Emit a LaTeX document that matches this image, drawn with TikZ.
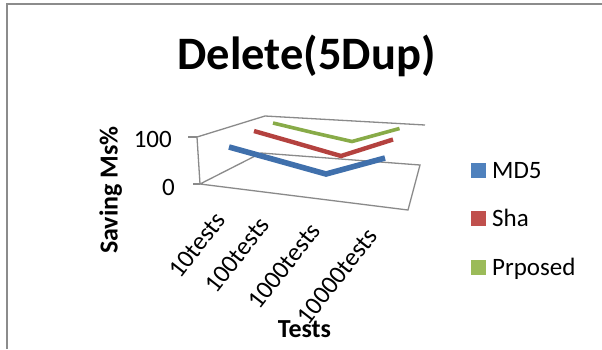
\documentclass[tikz,border=0pt]{standalone}
\usepackage{fontspec}
\setmainfont{Carlito}
\definecolor{framegray}{HTML}{8C8C8C}
\definecolor{wallgray}{HTML}{8A8A8A}
\definecolor{mdblue}{HTML}{4F81BD}
\definecolor{shared}{HTML}{C0504D}
\definecolor{propgreen}{HTML}{9BBB59}
\definecolor{mdribbon}{HTML}{4070AC}
\definecolor{sharibbon}{HTML}{B4423F}
\definecolor{propribbon}{HTML}{88AB48}
\begin{document}
\begin{tikzpicture}[x=1pt,y=-1pt,
  frameline/.style={draw=framegray,line width=1.6pt},
  wall/.style={draw=wallgray,line width=1.3pt},
  ribbon/.style={line width=#1,line join=miter,miter limit=4,line cap=butt},
  txt/.style={font=\fontsize{25}{30}\selectfont,inner sep=0pt},
  cattxt/.style={font=\fontsize{25.5}{30}\selectfont,inner sep=0pt,rotate=52,anchor=center},
  boldtxt/.style={font=\bfseries\fontsize{26}{31}\selectfont,inner sep=0pt},
  swatch/.style={minimum size=15pt,inner sep=0pt,anchor=north west}]
\useasboundingbox (0,0) rectangle (602,349);
\fill[white] (0,0) rectangle (602,349);

% outer frame of the chart area
\coordinate (frameBL) at (7,349);
\coordinate (frameTL) at (7,4);
\coordinate (frameTR) at (602,4);
\draw[frameline] (frameBL) -- (frameTL) -- (frameTR);

% title
\node[font=\bfseries\fontsize{46.5}{56}\selectfont,inner sep=0pt,anchor=base] (title) at (306.5,69) {Delete(5Dup)};

% 3-D box: side wall, back wall edge and floor
\coordinate (fl) at (200,184);
\coordinate (ft) at (197,137);
\coordinate (bt) at (265,116);
\coordinate (brt) at (425,125);
\coordinate (bl) at (261,153);
\coordinate (br) at (420,165);
\coordinate (fr) at (408,210);
\coordinate (tick100) at (188,137);
\coordinate (tick0) at (193,184);
\draw[wall] (fl) -- (ft) -- (bt) -- (brt);
\draw[wall] (fl) -- (bl) -- (br) -- (fr) -- cycle;
\draw[wall] (tick100) -- (ft);
\draw[wall] (tick0) -- (fl);

% series ribbons, back to front
\coordinate (p1) at (273,123);
\coordinate (p2) at (313,132.6);
\coordinate (p3) at (352,141.5);
\coordinate (p4) at (399.5,128.5);
\draw[ribbon=3.6pt,draw=propribbon] (p1) -- (p2) -- (p3) -- (p4);
\coordinate (s1) at (254,131);
\coordinate (s2) at (298,143.6);
\coordinate (s3) at (341,156);
\coordinate (s4) at (393,139.5);
\draw[ribbon=4.4pt,draw=sharibbon] (s1) -- (s2) -- (s3) -- (s4);
\coordinate (m1) at (229,147);
\coordinate (m2) at (278,160.6);
\coordinate (m3) at (326,174);
\coordinate (m4) at (385,158);
\draw[ribbon=5.6pt,draw=mdribbon] (m1) -- (m2) -- (m3) -- (m4);

% value axis labels
\node[txt,anchor=base east] (v100) at (172,147) {100};
\node[txt,anchor=base east] (v0) at (175,195) {0};
\node[boldtxt,rotate=90,anchor=base] (ytitle) at (117.5,190) {Saving Ms\%};

% category labels
\node[cattxt] (c1) at (197,245) {10tests};
\node[cattxt] (c2) at (237,255) {100tests};
\node[cattxt] (c3) at (284,266) {1000tests};
\node[cattxt] (c4) at (337.5,276.5) {10000tests};
\node[boldtxt,anchor=base] (xtitle) at (304.5,337) {Tests};

% legend
\node[swatch,fill=mdblue] (k1) at (471,163) {};
\node[swatch,fill=shared] (k2) at (471,211) {};
\node[swatch,fill=propgreen] (k3) at (471,260) {};
\node[txt,anchor=base west] (l1) at (492,178) {MD5};
\node[txt,anchor=base west] (l2) at (492,226) {Sha};
\node[txt,anchor=base west] (l3) at (492,275) {Prposed};
\end{tikzpicture}
\end{document}
